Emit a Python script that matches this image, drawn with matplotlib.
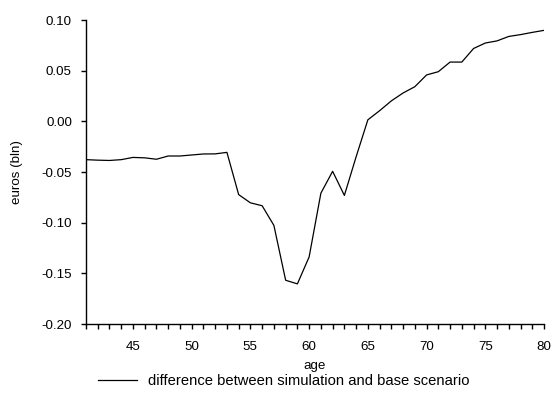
import numpy as np
import matplotlib.pyplot as plt
from matplotlib.ticker import MultipleLocator, FormatStrFormatter

plt.rcParams.update({
    "font.family": "Liberation Sans",
    "font.size": 9.6,
    "axes.unicode_minus": False,
})

# age 41..80, difference (simulation - base) in billions of euros
ages = np.arange(41, 81)
diff = [
    -0.0378, -0.0383, -0.0386, -0.0378, -0.0356, -0.0360, -0.0374, -0.0342,
    -0.0342, -0.0332, -0.0322, -0.0321, -0.0306, -0.0723, -0.0804, -0.0833,
    -0.1027, -0.1568, -0.1604, -0.1338, -0.0709, -0.0493, -0.0731, -0.0350,
    0.0015, 0.0105, 0.0202, 0.0280, 0.0342, 0.0458, 0.0490, 0.0585,
    0.0585, 0.0719, 0.0773, 0.0794, 0.0838, 0.0856, 0.0878, 0.0898,
]
series_label = "difference between simulation and base scenario"

fig = plt.figure(figsize=(5.54, 3.98), dpi=100)
ax = fig.add_axes([0.1552, 0.1859, 0.8268, 0.7638])

line, = ax.plot(ages, diff, color="black", lw=0.9, label=series_label)

ax.set_xlim(41, 80)
ax.set_ylim(-0.20, 0.10)
ax.xaxis.set_major_locator(MultipleLocator(5))
ax.xaxis.set_minor_locator(MultipleLocator(1))
ax.yaxis.set_major_locator(MultipleLocator(0.05))
ax.yaxis.set_major_formatter(FormatStrFormatter("%.2f"))

for side in ["top", "right"]:
    ax.spines[side].set_visible(False)
for side in ["left", "bottom"]:
    ax.spines[side].set_linewidth(1.0)

ax.tick_params(axis="both", which="both", direction="out", width=1.0, colors="black")
ax.tick_params(axis="x", which="both", length=3.6)
ax.tick_params(axis="x", which="major", pad=8.5)
ax.tick_params(axis="y", which="major", length=3.6, pad=6.5)

ax.set_xlabel("age", labelpad=5)
ax.set_ylabel("euros (bln)", labelpad=13)

fig.legend(handles=[line], loc="center", bbox_to_anchor=(0.513, 0.042),
           frameon=False, handlelength=2.6, handletextpad=0.8, fontsize=10.6)

fig.savefig("out.png", dpi=100)
